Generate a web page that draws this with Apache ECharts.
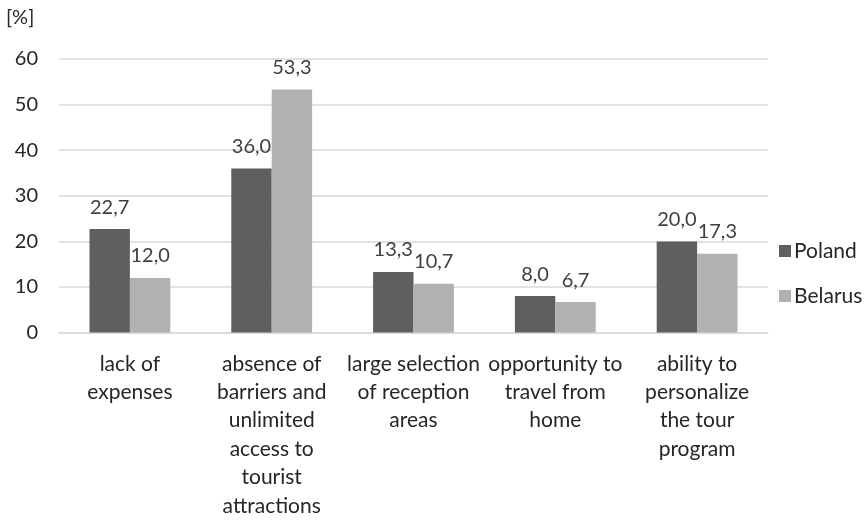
<!DOCTYPE html>
<html>
<head>
<meta charset="utf-8">
<script src="https://cdn.jsdelivr.net/npm/echarts@6/dist/echarts.min.js"></script>
<style>
  html, body { margin: 0; padding: 0; background: #ffffff; }
  #chart { width: 867px; height: 520px; }
</style>
</head>
<body>
<div id="chart"></div>
<script>
// Reasons for choosing virtual tourism, share of respondents [%]
const categories = [
  'lack of\nexpenses',
  'absence of\nbarriers and\nunlimited\naccess to\ntourist\nattractions',
  'large selection\nof reception\nareas',
  'opportunity to\ntravel from\nhome',
  'ability to\npersonalize\nthe tour\nprogram'
];
const seriesNames = ['Poland', 'Belarus'];
const polandValues = [22.7, 36.0, 13.3, 8.0, 20.0];
const belarusValues = [12.0, 53.3, 10.7, 6.7, 17.3];
const yTicks = { min: 0, max: 60, interval: 10 };

const FONT = 'Lato, "Open Sans", sans-serif';
const fmt = v => v.toFixed(1).replace('.', ',');

const chart = echarts.init(document.getElementById('chart'), null, { renderer: 'canvas' });

const labelStyle = {
  show: true,
  position: 'top',
  distance: 12,
  fontFamily: FONT,
  fontSize: 20,
  color: '#404040',
  formatter: p => fmt(p.value)
};

chart.setOption({
  animation: false,
  backgroundColor: '#ffffff',
  grid: { left: 59, right: 99, top: 59, bottom: 180, containLabel: false },
  graphic: [{
    type: 'text',
    left: 6,
    top: 8,
    style: { text: '[%]', font: '20px ' + FONT, fill: '#262626' }
  }],
  legend: {
    orient: 'vertical',
    left: 774,
    top: 235,
    itemWidth: 12,
    itemHeight: 12,
    itemGap: 23,
    icon: 'rect',
    textStyle: { fontFamily: FONT, fontSize: 21, color: '#262626', lineHeight: 22, padding: [0, 0, 0, -2] },
    data: seriesNames
  },
  xAxis: {
    type: 'category',
    data: categories,
    axisLine: { lineStyle: { color: '#d9d9d9', width: 1.5 } },
    axisTick: { show: false },
    axisLabel: {
      interval: 0,
      margin: 17,
      fontFamily: FONT,
      fontSize: 21,
      lineHeight: 28.4,
      color: '#262626',
      align: 'center',
      verticalAlign: 'top'
    }
  },
  yAxis: {
    type: 'value',
    min: yTicks.min,
    max: yTicks.max,
    interval: yTicks.interval,
    axisLine: { show: false },
    axisTick: { show: false },
    splitLine: { lineStyle: { color: '#d9d9d9', width: 1.5 } },
    axisLabel: { margin: 21, fontFamily: FONT, fontSize: 20, color: '#262626' }
  },
  series: [
    {
      name: seriesNames[0],
      type: 'bar',
      data: polandValues,
      barGap: '0%',
      barCategoryGap: '43%',
      itemStyle: { color: '#5f5f5f' },
      label: labelStyle
    },
    {
      name: seriesNames[1],
      type: 'bar',
      data: belarusValues,
      itemStyle: { color: '#b1b1b1' },
      label: labelStyle
    }
  ]
});
</script>
</body>
</html>
